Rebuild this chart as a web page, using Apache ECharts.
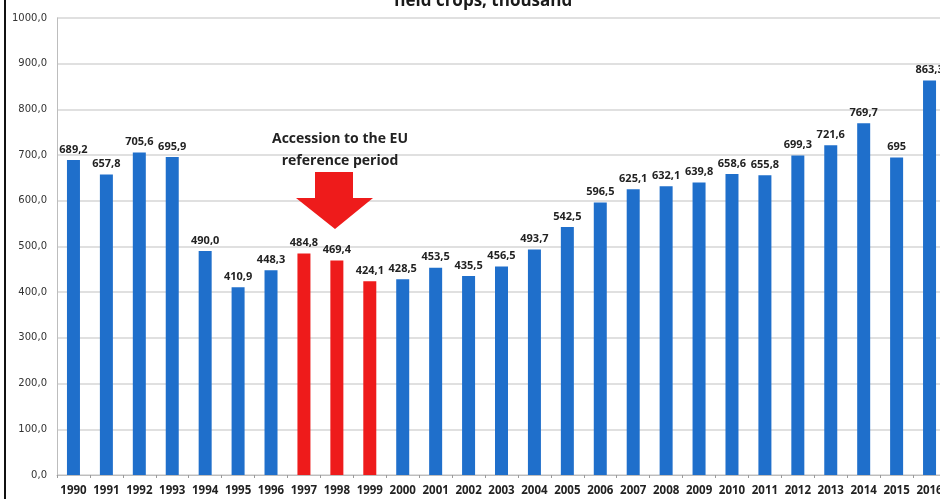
<!DOCTYPE html>
<html>
<head>
<meta charset="utf-8">
<script src="https://cdn.jsdelivr.net/npm/echarts@6/dist/echarts.min.js"></script>
<style>
  html, body { margin: 0; padding: 0; background: #fff; }
  #chart { width: 940px; height: 499px; }
</style>
</head>
<body>
<div id="chart"></div>
<script>
// Years on the category axis
const years = ['1990','1991','1992','1993','1994','1995','1996','1997','1998','1999',
  '2000','2001','2002','2003','2004','2005','2006','2007','2008','2009',
  '2010','2011','2012','2013','2014','2015','2016'];

// Area of field crops, thousand ha
const values = [689.2, 657.8, 705.6, 695.9, 490.0, 410.9, 448.3, 484.8, 469.4, 424.1,
  428.5, 453.5, 435.5, 456.5, 493.7, 542.5, 596.5, 625.1, 632.1, 639.8,
  658.6, 655.8, 699.3, 721.6, 769.7, 695, 863.3];

// Value labels as printed above each bar
const valueLabels = ['689,2','657,8','705,6','695,9','490,0','410,9','448,3','484,8','469,4','424,1',
  '428,5','453,5','435,5','456,5','493,7','542,5','596,5','625,1','632,1','639,8',
  '658,6','655,8','699,3','721,6','769,7','695','863,3'];

// Years of the EU accession reference period, drawn in red
const referenceYears = ['1997','1998','1999'];

// Value axis ticks
const yTicks = [0, 100, 200, 300, 400, 500, 600, 700, 800, 900, 1000];

const BLUE = '#1f6fcb';
const RED = '#ee1b1b';

const barData = values.map((v, i) => ({
  value: v,
  itemStyle: { color: referenceYears.includes(years[i]) ? RED : BLUE }
}));

const chart = echarts.init(document.getElementById('chart'), null, { renderer: 'canvas' });

chart.setOption({
  backgroundColor: '#fff',
  animation: false,
  title: {
    text: 'field crops, thousand',
    left: 478,
    textAlign: 'center',
    top: -12,
    textStyle: { fontFamily: 'Open Sans', fontWeight: 'bold', fontSize: 17, color: '#1a1a1a' }
  },
  grid: { left: 57, top: 18, right: -6, bottom: 24, containLabel: false, outerBoundsMode: 'none' },
  xAxis: {
    type: 'category',
    data: years,
    boundaryGap: true,
    axisLine: { show: true, lineStyle: { color: '#bdbdbd', width: 1 } },
    axisTick: { show: true, length: 3, lineStyle: { color: '#9a9a9a' } },
    axisLabel: {
      interval: 0, margin: 10,
      fontFamily: 'Open Sans', fontWeight: 'bold', fontSize: 11.5, color: '#222'
    }
  },
  yAxis: {
    type: 'value',
    min: yTicks[0],
    max: yTicks[yTicks.length - 1],
    interval: yTicks[1] - yTicks[0],
    axisLine: { show: true, lineStyle: { color: '#bdbdbd', width: 1 } },
    axisTick: { show: false },
    axisLabel: {
      margin: 10,
      fontFamily: 'DejaVu Sans', fontSize: 10, color: '#333',
      formatter: v => v.toFixed(1).replace('.', ',')
    },
    splitLine: { show: true, lineStyle: { color: '#d6d6d6', width: 1.5 } }
  },
  series: [{
    type: 'bar',
    data: barData,
    barWidth: 13,
    label: {
      show: true,
      position: 'top',
      distance: 5,
      fontFamily: 'Open Sans', fontWeight: 'bold', fontSize: 11, color: '#222',
      formatter: p => valueLabels[p.dataIndex]
    }
  }],
  graphic: [
    // frame edge on the left
    { type: 'rect', z: 100, shape: { x: 4, y: 0, width: 2, height: 499 }, style: { fill: '#111' }, silent: true },
    // annotation
    {
      type: 'text', z: 100, x: 340, y: 128,
      style: {
        text: 'Accession to the EU\nreference period',
        align: 'center',
        font: 'bold 14px "Open Sans"', fill: '#222', lineHeight: 22
      }
    },
    {
      type: 'polygon', z: 100, silent: true,
      shape: { points: [[315,172],[353,172],[353,198],[373,198],[335,229],[296,198],[315,198]] },
      style: { fill: '#ee1b1b' }
    }
  ]
});
</script>
</body>
</html>
